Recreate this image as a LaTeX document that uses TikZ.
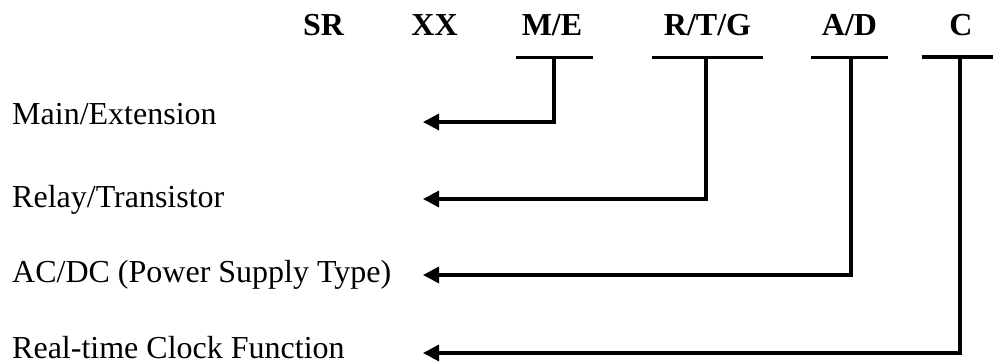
\documentclass[tikz,border=0pt]{standalone}
\usepackage{fontspec}
\setmainfont{Liberation Serif}
\usetikzlibrary{arrows.meta}
\begin{document}
\begin{tikzpicture}[x=1pt,y=-1pt,
  code/.style={font=\fontsize{32}{36}\selectfont\bfseries, anchor=base, inner sep=0pt},
  desc/.style={font=\fontsize{32}{36}\selectfont, anchor=base west, inner sep=0pt},
  uline/.style={line width=3pt},
  conn/.style={line width=3.2pt, -{Triangle[length=16pt,width=16pt]}}]
\useasboundingbox (0,0) rectangle (993,363);
% top code letters
\node[code] (sr)  at (323.5,36) {SR};
\node[code] (xx)  at (434.5,36) {XX};
\node[code] (me)  at (552,36) {M/E};
\node[code] (rtg) at (707.5,36) {R/T/G};
\node[code] (ad)  at (849.5,36) {A/D};
\node[code] (c)   at (961,36) {C};
% underlines
\draw[uline] (516,58) -- (593,58);
\draw[uline] (652,58) -- (763,58);
\draw[uline] (811,58) -- (888,58);
\draw[line width=4pt] (922,57) -- (993,57);
% descriptions
\node[desc] (dme)  at (12,125) {Main/Extension};
\node[desc] (drtg) at (12,208) {Relay/Transistor};
\node[desc] (dad)  at (12,283) {AC/DC (Power Supply Type)};
\node[desc] (dc)   at (12,358) {Real-time Clock Function};
% connector end points
\coordinate (sme) at (554,58);
\coordinate (srtg) at (706,58);
\coordinate (sad) at (851,58);
\coordinate (sc) at (960,57);
\coordinate (tme) at (423,122);
\coordinate (trtg) at (423,199);
\coordinate (tad) at (423,275);
\coordinate (tc) at (423,353);
\draw[conn] (sme) |- (tme);
\draw[conn] (srtg) |- (trtg);
\draw[conn] (sad) |- (tad);
\draw[conn] (sc) |- (tc);
\end{tikzpicture}
\end{document}
